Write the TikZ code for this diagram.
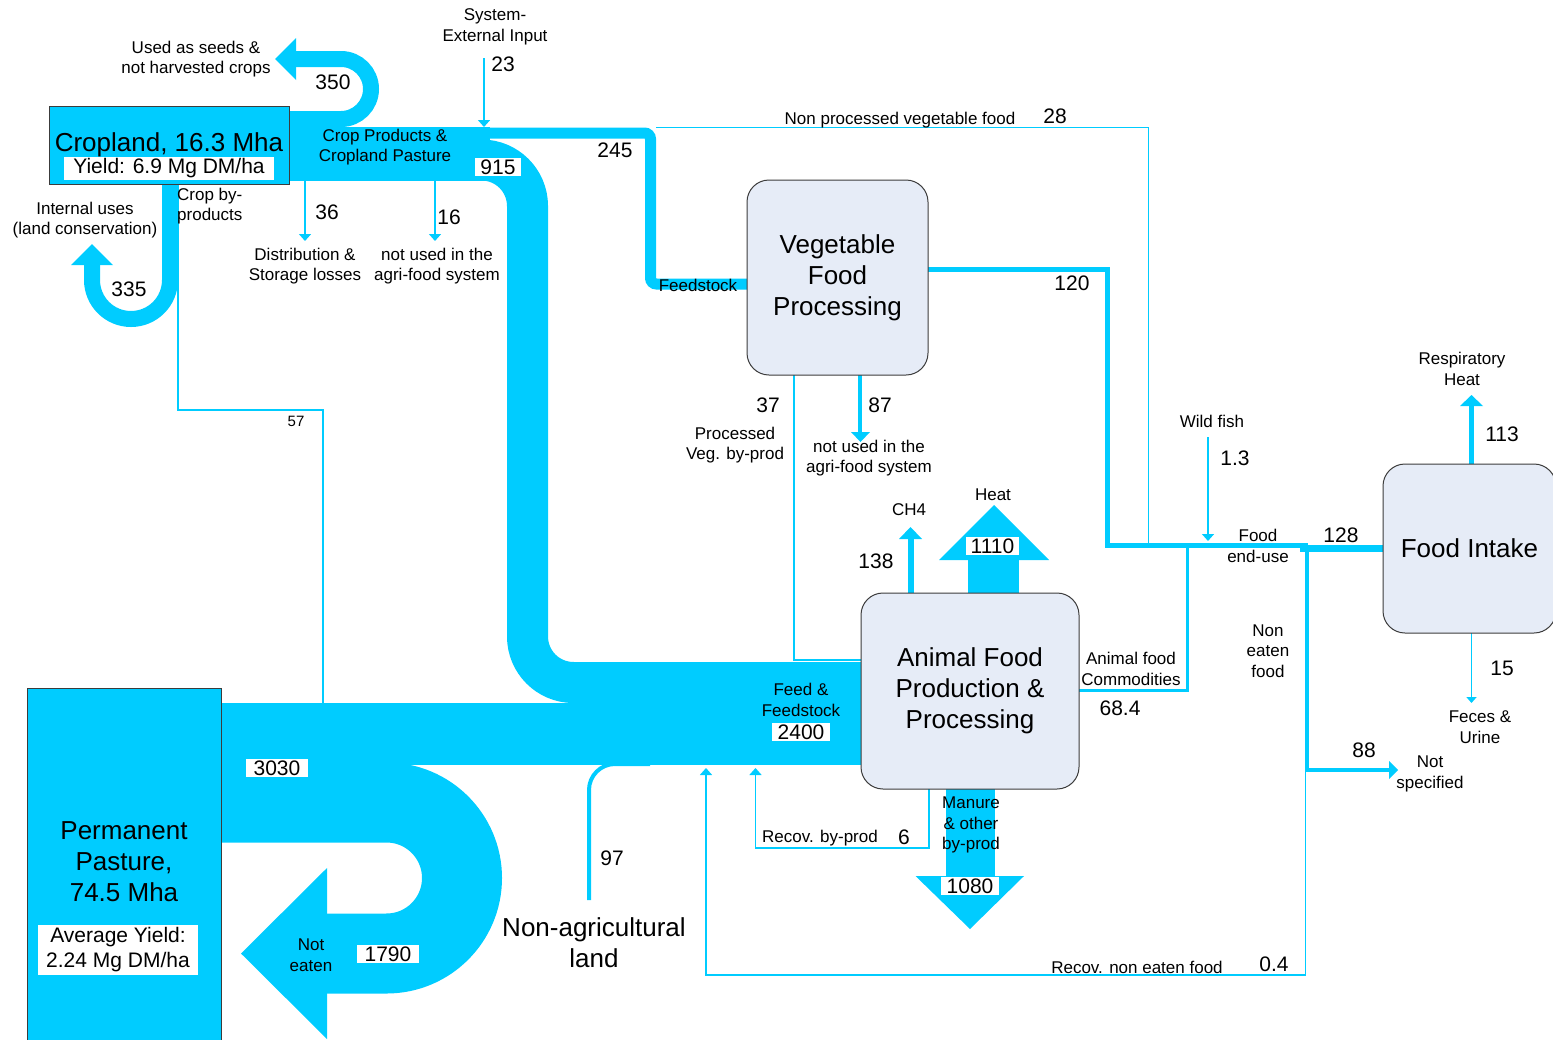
\documentclass[tikz,border=0pt]{standalone}
\usepackage{fontspec}
\setmainfont{Liberation Sans}
\usetikzlibrary{arrows.meta,backgrounds}
\definecolor{flowc}{RGB}{0,204,255}
\definecolor{boxc}{RGB}{230,236,247}
\definecolor{edgec}{RGB}{60,60,60}
\tikzset{
  band/.style={draw=flowc,line width=#1},
  thinflow/.style={draw=flowc,line width=1.5pt},
  flowtip/.style={-{Triangle[width=12pt,length=7pt]}},
  procbox/.style={draw=edgec,line width=1pt,fill=boxc,rounded corners=22pt,
    font=\fontsize{26}{31}\selectfont,align=center},
  landbox/.style={draw=edgec,line width=1pt,fill=flowc,inner sep=0pt},
  lbl/.style={font=\fontsize{17}{20.5}\selectfont,align=center,inner sep=0pt},
  num/.style={font=\fontsize{21}{25}\selectfont,align=center,inner sep=0pt},
  bigtxt/.style={font=\fontsize{26}{31}\selectfont,align=center,inner sep=0pt},
  numbox/.style={num,fill=white,inner xsep=5.5pt,inner ysep=1.5pt},
}
\begin{document}
\begin{tikzpicture}[x=1pt,y=-1pt]
\useasboundingbox (0,0) rectangle (1553,1039);
% boxes
\node[landbox,minimum width=240pt,minimum height=78pt] (crop) at (169,145) {};
\node[landbox,minimum width=194pt,minimum height=357pt] (pasture) at (124,866.5) {};
\node[procbox,minimum width=181pt,minimum height=195pt] (veg) at (837.5,277.5) {Vegetable\\Food\\Processing};
\node[procbox,minimum width=218pt,minimum height=196pt] (animal) at (970,691) {Animal Food\\Production \&\\Processing};
\node[procbox,minimum width=173pt,minimum height=169pt] (intake) at (1469.5,548.5) {Food Intake};
\begin{scope}[on background layer]
% cropland outputs
\draw[band=16pt,rounded corners=30pt] (289,119) -- (371,119) -- (371,59) -- (296,59);
\fill[flowc] (296,38) -- (275,59) -- (296,80) -- cycle;
\draw[band=16pt,rounded corners=39pt] (170,184) -- (170,319) -- (92,319) -- (92,265);
\fill[flowc] (71,265) -- (92,244) -- (113,265) -- cycle;
\fill[flowc] (289,127) rectangle (490,181);
\draw[band=11pt,rounded corners=6pt] (480,133) -- (650.5,133) -- (650.5,284) -- (747,284);
\draw[band=41pt,rounded corners=46pt] (480,160) -- (527.5,160) -- (527.5,682.5) -- (861,682.5);
\draw[thinflow] (178,184) -- (178,410) -- (323,410) -- (323,704);
\draw[thinflow,flowtip] (305,181) -- (305,241);
\draw[thinflow,flowtip] (435,181) -- (435,241);
\draw[thinflow,flowtip] (484,58) -- (484,127);
\draw[thinflow] (656,127.5) -- (1148.5,127.5) -- (1148.5,545);
% pasture outputs
\fill[flowc] (221,703) rectangle (861,765);
\draw[band=80pt,rounded corners=75.5pt] (221,802.5) -- (462,802.5) -- (462,953.5) -- (327,953.5);
\fill[flowc] (327,868) -- (241,953.5) -- (327,1039) -- cycle;
\draw[band=4pt,rounded corners=26pt] (589,900) -- (589,764) -- (650,764);
% vegetable processing
\draw[thinflow] (794,375) -- (794,660) -- (861,660);
\draw[band=5.5pt] (928,269.5) -- (1107.5,269.5) -- (1107.5,545.5) -- (1308,545.5);
\fill[flowc] (1300,545) rectangle (1383,552);
\draw[band=4pt] (860,375) -- (860,433);
\fill[flowc] (851,432) -- (870,432) -- (860.5,442) -- cycle;
% animal processing
\fill[flowc] (968,593) rectangle (1019,559);
\fill[flowc] (939,560) -- (994,505) -- (1049,560) -- cycle;
\draw[band=6pt] (910.5,593) -- (910.5,538);
\fill[flowc] (899,539) -- (910.5,527) -- (922,539) -- cycle;
\fill[flowc] (945.5,789) rectangle (994.5,877);
\fill[flowc] (915.5,876) -- (970,929) -- (1024,876) -- cycle;
\draw[thinflow,flowtip] (929,789) -- (929,848) -- (755.5,848) -- (755.5,768);
\draw[band=3pt] (1079,690.5) -- (1187,690.5) -- (1187,547);
% food end-use
\draw[band=4pt] (1307,547) -- (1307,770) -- (1390,770);
\fill[flowc] (1389,761) -- (1398,770) -- (1389,779) -- cycle;
\draw[thinflow,flowtip] (1305.5,770) -- (1305.5,975) -- (706,975) -- (706,768);
\draw[thinflow,flowtip] (1208,437) -- (1208,541);
\draw[band=5pt] (1471.5,464) -- (1471.5,405);
\fill[flowc] (1460,406) -- (1471.5,395) -- (1483,406) -- cycle;
\draw[thinflow,-{Triangle[width=10pt,length=6pt]}] (1471.5,633) -- (1471.5,703);
\end{scope}
% cropland labels
\node[bigtxt] (croptxt) at (169,145) {Cropland, 16.3 Mha};
\node[num,fill=white,minimum width=210pt,minimum height=23pt] (cropyield) at (169,168.5) {Yield: 6.9 Mg DM/ha};
\node[lbl] (seeds) at (196,59) {Used as seeds \&\\not harvested crops};
\node[num] (n350) at (333,82) {350};
\node[lbl] (extin) at (495,27) {System-\\External Input};
\node[num] (n23) at (503,64) {23};
\node[lbl] (cropprod) at (385,147) {Crop Products \&\\Cropland Pasture};
\node[numbox] (n915) at (498,167) {915};
\node[num] (n245) at (615,150) {245};
\node[lbl] (nonproc) at (900,120) {Non processed vegetable food};
\node[num] (n28) at (1055,116) {28};
\node[lbl,anchor=west,align=left] (byprod) at (177,206) {Crop by-\\products};
\node[num] (n36) at (327,212) {36};
\node[num] (n16) at (449,217) {16};
\node[lbl] (distr) at (305,266) {Distribution \&\\Storage losses};
\node[lbl] (notused) at (437,266) {not used in the\\agri-food system};
\node[lbl] (internal) at (85,220) {Internal uses\\(land conservation)};
\node[num] (n335) at (129,289) {335};
\node[lbl,font=\fontsize{15}{18}\selectfont] (n57) at (296,421) {57};
% vegetable processing labels
\node[lbl] (feedstock) at (698,285) {Feedstock};
\node[num] (n120) at (1072,283) {120};
\node[num] (n37) at (768,405) {37};
\node[num] (n87) at (880,405) {87};
\node[lbl] (procveg) at (735,445) {Processed\\Veg. by-prod};
\node[lbl] (notusedveg) at (869,458) {not used in the\\agri-food system};
% food intake labels
\node[lbl] (resp) at (1462,369) {Respiratory\\Heat};
\node[num] (n113) at (1502,434) {113};
\node[lbl] (wildfish) at (1212,421) {Wild fish};
\node[num] (n13) at (1235,458) {1.3};
\node[lbl] (enduse) at (1258,546) {Food\\end-use};
\node[num] (n128) at (1341,535) {128};
\node[lbl] (noneaten) at (1268,651) {Non\\eaten\\food};
\node[num] (n15) at (1502,668) {15};
\node[lbl] (feces) at (1480,727) {Feces \&\\Urine};
\node[num] (n88) at (1364,750) {88};
\node[lbl] (notspec) at (1430,774) {Not\\specified};
% animal processing labels
\node[lbl] (heat) at (993,495) {Heat};
\node[numbox,inner xsep=4.5pt] (n1110) at (992.5,546) {1110};
\node[lbl] (ch4) at (909,510) {CH4};
\node[num] (n138) at (876,561) {138};
\node[lbl] (animcomm) at (1131,669) {Animal food\\Commodities};
\node[num] (n684) at (1120,708) {68.4};
\node[lbl] (feed) at (801,700) {Feed \&\\Feedstock};
\node[numbox] (n2400) at (801,732) {2400};
\node[lbl] (manure) at (971,825) {Manure\\\& other\\by-prod};
\node[numbox] (n1080) at (970,886) {1080};
\node[lbl] (recovby) at (820,838) {Recov. by-prod};
\node[num] (n6) at (904,837) {6};
\node[lbl] (recovnon) at (1137,967) {Recov. non eaten food};
\node[num] (n04) at (1274,964) {0.4};
% pasture labels
\node[bigtxt] (pasttxt) at (124,862) {Permanent\\Pasture,\\74.5 Mha};
\node[num,fill=white,minimum width=160pt,minimum height=50pt,font=\fontsize{21}{25}\selectfont] (pastyield) at (118,950) {Average Yield:\\2.24 Mg DM/ha};
\node[numbox,inner xsep=8pt] (n3030) at (277,768) {3030};
\node[lbl] (noteaten) at (311,955) {Not\\eaten};
\node[numbox,inner xsep=8pt] (n1790) at (388,954) {1790};
\node[num] (n97) at (612,858) {97};
\node[bigtxt] (nonagri) at (594,943) {Non-agricultural\\land};
\end{tikzpicture}
\end{document}
